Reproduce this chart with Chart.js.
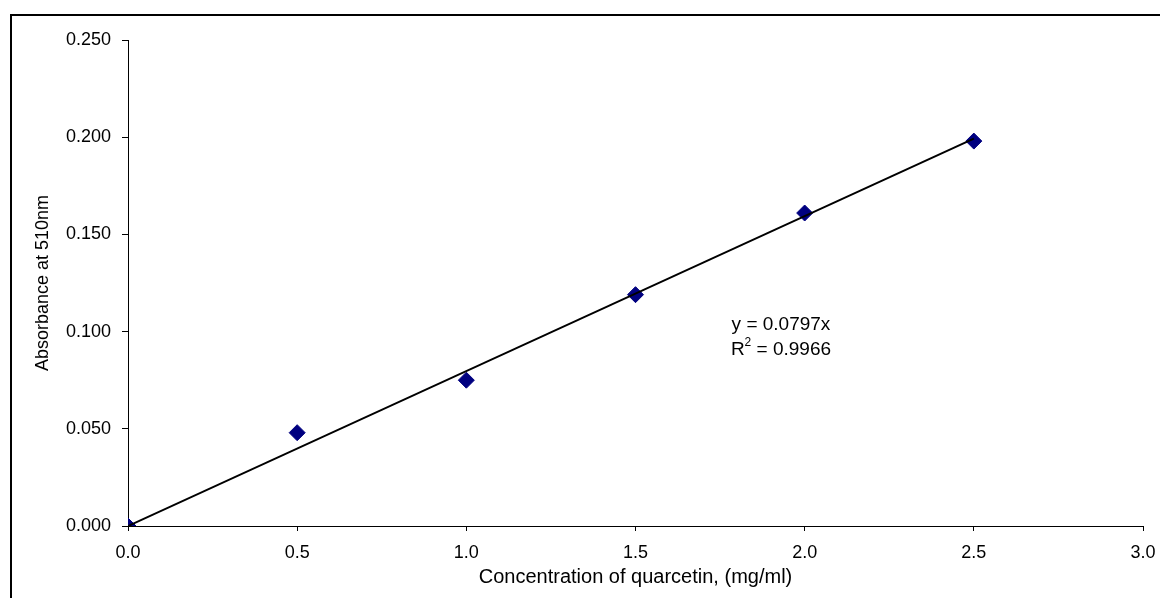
<!DOCTYPE html>
<html>
<head>
<meta charset="utf-8">
<script src="https://cdn.jsdelivr.net/npm/chart.js@4"></script>
<style>
  html, body { margin: 0; padding: 0; background: #fff; }
  #wrap { width: 1160px; height: 598px; }
</style>
</head>
<body>
<div id="wrap"><canvas id="chart" width="1160" height="598"></canvas></div>
<script>
// Data
const concentration = [0.0, 0.5, 1.0, 1.5, 2.0, 2.5];
const absorbance = [0.000, 0.048, 0.075, 0.119, 0.161, 0.198];
const trendX = [0.0, 2.5];
const slope = 0.0797;
const rSquared = 0.9966;
const xTicks = [0, 0.5, 1.0, 1.5, 2.0, 2.5, 3.0];
const yTicks = [0, 0.05, 0.10, 0.15, 0.20, 0.25];

const font = "'Liberation Sans', Arial, sans-serif";

// outer frame round the whole chart
const framePlugin = {
    id: 'frame',
    afterDraw(chart) {
        const c = chart.ctx;
        c.save();
        c.strokeStyle = '#000';
        c.lineWidth = 2;
        c.strokeRect(11, 15, 1200, 700);
        c.restore();
    }
};

// trendline equation label
const equationPlugin = {
    id: 'equation',
    afterDraw(chart) {
        const c = chart.ctx;
        const x = chart.scales.x.getPixelForValue(1.93);
        const y = chart.scales.y.getPixelForValue(0.1037);
        c.save();
        c.fillStyle = '#000';
        c.font = '19px ' + font;
        c.textBaseline = 'middle';
        c.textAlign = 'center';
        c.fillText('y = ' + slope + 'x', x, y);
        const rest = ' = ' + rSquared;
        const wR = c.measureText('R').width;
        const wRest = c.measureText(rest).width;
        c.font = '12px ' + font;
        const w2 = c.measureText('2').width;
        const total = wR + w2 + wRest;
        let left = x - total / 2;
        c.textAlign = 'left';
        c.font = '19px ' + font;
        c.fillText('R', left, y + 25);
        c.font = '12px ' + font;
        c.fillText('2', left + wR, y + 18);
        c.font = '19px ' + font;
        c.fillText(rest, left + wR + w2, y + 25);
        c.restore();
    }
};

new Chart(document.getElementById('chart'), {
    type: 'scatter',
    data: {
        datasets: [
            {
                label: 'Absorbance',
                data: concentration.map((x, i) => ({ x: x, y: absorbance[i] })),
                pointStyle: 'rectRot',
                pointRadius: 8,
                pointHoverRadius: 8,
                backgroundColor: '#000080',
                borderColor: '#000080',
                borderWidth: 1,
                order: 1
            },
            {
                label: 'Trend',
                type: 'line',
                data: trendX.map(x => ({ x: x, y: slope * x })),
                borderColor: '#000',
                borderWidth: 2,
                pointRadius: 0,
                fill: false,
                order: 0
            }
        ]
    },
    options: {
        responsive: false,
        animation: false,
        events: [],
        layout: { padding: { left: 0, top: 40, right: 17, bottom: 0 } },
        plugins: {
            legend: { display: false },
            tooltip: { enabled: false }
        },
        scales: {
            x: {
                type: 'linear',
                min: 0,
                max: 3,
                afterBuildTicks: s => { s.ticks = xTicks.map(v => ({ value: v })); },
                afterFit: s => { s.height = 72; s.paddingLeft = 0; s.paddingRight = 0; },
                grid: { drawOnChartArea: false, tickLength: 5, color: '#000' },
                border: { color: '#000', width: 1 },
                ticks: {
                    color: '#000',
                    padding: 11,
                    font: { family: font, size: 18 },
                    callback: v => Number(v).toFixed(1)
                },
                title: {
                    display: true,
                    text: 'Concentration of quarcetin, (mg/ml)',
                    color: '#000',
                    font: { family: font, size: 20 },
                    padding: { top: 0, bottom: 9 }
                }
            },
            y: {
                min: 0,
                max: 0.25,
                afterBuildTicks: s => { s.ticks = yTicks.map(v => ({ value: v })); },
                afterFit: s => { s.width = 128; s.paddingTop = 0; s.paddingBottom = 0; },
                grid: { drawOnChartArea: false, tickLength: 6, color: '#000' },
                border: { color: '#000', width: 1 },
                ticks: {
                    color: '#000',
                    padding: 11,
                    font: { family: font, size: 18 },
                    callback: v => Number(v).toFixed(3)
                },
                title: {
                    display: true,
                    text: 'Absorbance at 510nm',
                    color: '#000',
                    font: { family: font, size: 18 },
                    padding: { top: 32, bottom: 0 }
                }
            }
        }
    },
    plugins: [framePlugin, equationPlugin]
});
</script>
</body>
</html>
